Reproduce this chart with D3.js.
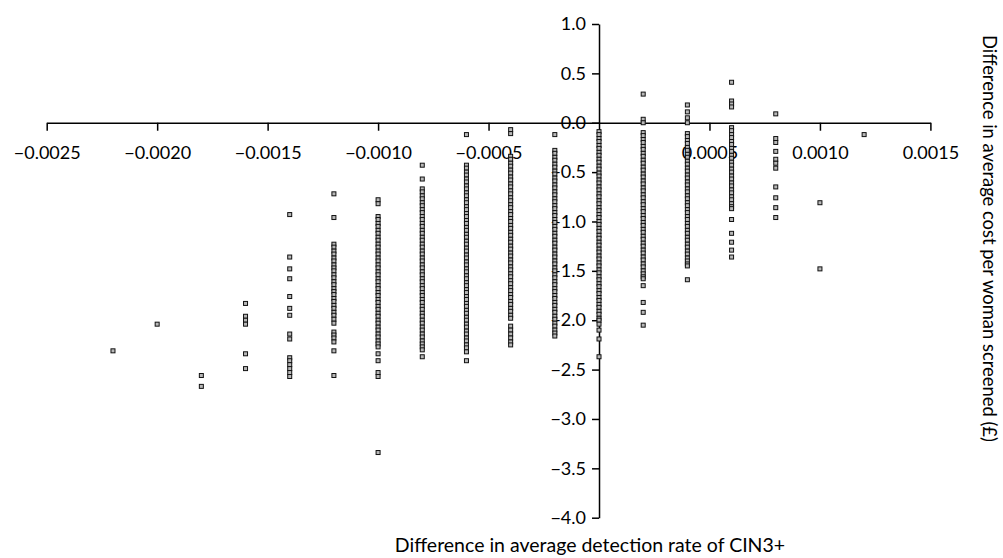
<!DOCTYPE html>
<html>
<head>
<meta charset="utf-8">
<script src="https://cdn.jsdelivr.net/npm/d3@7"></script>
<style>
  html, body { margin: 0; padding: 0; background: #fff; }
  svg text { font-family: Lato, "Open Sans", sans-serif; fill: #000; }
</style>
</head>
<body>
<svg id="chart" width="1003" height="558"></svg>
<script>
// Difference in detection rate (x) for each column of simulated strategies
const detectionDiffs = [
  -0.0022, -0.0020, -0.0018, -0.0016, -0.0014, -0.0012, -0.0010, -0.0008, -0.0006,
  -0.0004, -0.0002, 0, 0.0002, 0.0004, 0.0006, 0.0008, 0.0010, 0.0012
];

// Difference in cost per woman screened (£), one list per column above
const costM0022 = [-2.31];
const costM0020 = [-2.04];
const costM0018 = [-2.56, -2.67];
const costM0016 = [-1.83, -1.96, -2.00, -2.04, -2.34, -2.49];
const costM0014 = [-0.93, -1.36, -1.48, -1.58, -1.76, -1.88, -1.95, -2.14, -2.19,
  -2.38, -2.41, -2.45, -2.49, -2.53, -2.57];
const costM0012 = [-0.72, -0.96,
  -1.23, -1.26, -1.30, -1.33, -1.37, -1.40, -1.44, -1.47, -1.50, -1.54, -1.57, -1.61,
  -1.64, -1.68, -1.71, -1.74, -1.78, -1.81, -1.85, -1.88, -1.92, -1.95, -1.99, -2.03,
  -2.12, -2.15, -2.18, -2.22, -2.31, -2.56];
const costM0010 = [-0.78, -0.82,
  -0.95, -0.98, -1.02, -1.05, -1.09, -1.12, -1.16, -1.19, -1.23, -1.26, -1.30, -1.33,
  -1.37, -1.40, -1.44, -1.47, -1.51, -1.54, -1.58, -1.61, -1.65, -1.68, -1.72, -1.75,
  -1.79, -1.82, -1.86, -1.89, -1.93, -1.96, -2.00, -2.03, -2.07, -2.10, -2.14, -2.17,
  -2.21, -2.24, -2.27, -2.34, -2.41, -2.53, -2.57, -3.34];
const costM0008 = [-0.43, -0.57,
  -0.67, -0.70, -0.74, -0.77, -0.81, -0.84, -0.88, -0.91, -0.95, -0.98, -1.02, -1.05,
  -1.09, -1.12, -1.16, -1.19, -1.23, -1.26, -1.30, -1.33, -1.37, -1.40, -1.44, -1.47,
  -1.51, -1.54, -1.58, -1.61, -1.65, -1.68, -1.72, -1.75, -1.79, -1.82, -1.86, -1.89,
  -1.93, -1.96, -2.00, -2.03, -2.07, -2.10, -2.14, -2.17, -2.21, -2.24, -2.27, -2.30,
  -2.37];
const costM0006 = [-0.12,
  -0.43, -0.46, -0.50, -0.53, -0.57, -0.60, -0.64, -0.67, -0.71, -0.74, -0.78, -0.81,
  -0.85, -0.88, -0.92, -0.95, -0.99, -1.02, -1.06, -1.09, -1.13, -1.16, -1.20, -1.23,
  -1.27, -1.30, -1.34, -1.37, -1.41, -1.44, -1.48, -1.51, -1.55, -1.58, -1.62, -1.65,
  -1.69, -1.72, -1.76, -1.79, -1.83, -1.86, -1.90, -1.93, -1.97, -2.00, -2.04, -2.07,
  -2.11, -2.14, -2.18, -2.21, -2.25, -2.28, -2.32, -2.41];
const costM0004 = [-0.07, -0.11,
  -0.34, -0.37, -0.41, -0.44, -0.48, -0.51, -0.55, -0.58, -0.62, -0.65, -0.69, -0.72,
  -0.76, -0.79, -0.83, -0.86, -0.90, -0.93, -0.97, -1.00, -1.04, -1.07, -1.11, -1.14,
  -1.18, -1.21, -1.25, -1.28, -1.32, -1.35, -1.39, -1.42, -1.46, -1.49, -1.53, -1.56,
  -1.60, -1.63, -1.67, -1.70, -1.74, -1.77, -1.81, -1.84, -1.88, -1.91, -1.95, -1.98,
  -2.06, -2.10, -2.14, -2.18, -2.22, -2.25];
const costM0002 = [-0.12,
  -0.28, -0.31, -0.35, -0.38, -0.42, -0.45, -0.49, -0.52, -0.56, -0.59, -0.63, -0.66,
  -0.70, -0.73, -0.77, -0.80, -0.84, -0.87, -0.91, -0.94, -0.98, -1.01, -1.05, -1.08,
  -1.12, -1.15, -1.19, -1.22, -1.26, -1.29, -1.33, -1.36, -1.40, -1.43, -1.47, -1.50,
  -1.54, -1.57, -1.61, -1.64, -1.68, -1.71, -1.75, -1.78, -1.82, -1.85, -1.89, -1.92,
  -1.96, -1.99, -2.03, -2.06, -2.10, -2.13, -2.16];
const costZero = [
  -0.09, -0.12, -0.16, -0.19, -0.23, -0.26, -0.30, -0.33, -0.37, -0.40, -0.44, -0.47,
  -0.51, -0.54, -0.58, -0.61, -0.65, -0.68, -0.72, -0.75, -0.79, -0.82, -0.86, -0.89,
  -0.93, -0.96, -1.00, -1.03, -1.07, -1.10, -1.14, -1.17, -1.21, -1.24, -1.28, -1.31,
  -1.35, -1.38, -1.42, -1.45, -1.49, -1.52, -1.56, -1.59, -1.63, -1.66, -1.70, -1.73,
  -1.77, -1.80, -1.84, -1.87, -1.91, -1.94, -1.98, -2.00, -2.04, -2.10, -2.19, -2.37];
const costP0002 = [0.29, 0.035, 0.00,
  -0.10, -0.13, -0.17, -0.20, -0.24, -0.27, -0.31, -0.34, -0.38, -0.41, -0.45, -0.48,
  -0.52, -0.55, -0.59, -0.62, -0.66, -0.69, -0.73, -0.76, -0.80, -0.83, -0.87, -0.90,
  -0.94, -0.97, -1.01, -1.04, -1.08, -1.11, -1.15, -1.18, -1.22, -1.25, -1.29, -1.32,
  -1.36, -1.39, -1.43, -1.46, -1.50, -1.53, -1.56, -1.58, -1.65, -1.82, -1.92, -2.05];
const costP0004 = [0.18, 0.11, 0.05, 0.00,
  -0.11, -0.14, -0.18, -0.21, -0.25, -0.28, -0.32, -0.35, -0.39, -0.42, -0.46, -0.49,
  -0.53, -0.56, -0.60, -0.63, -0.67, -0.70, -0.74, -0.77, -0.81, -0.84, -0.88, -0.91,
  -0.95, -0.98, -1.02, -1.05, -1.09, -1.12, -1.16, -1.19, -1.23, -1.26, -1.30, -1.33,
  -1.37, -1.40, -1.43, -1.45, -1.59];
const costP0006 = [0.41, 0.22, 0.19, 0.16,
  -0.05, -0.08, -0.12, -0.15, -0.19, -0.22, -0.26, -0.29, -0.33, -0.36, -0.40, -0.43,
  -0.47, -0.50, -0.54, -0.57, -0.61, -0.64, -0.68, -0.71, -0.75, -0.78, -0.82, -0.85,
  -0.87, -0.98, -1.12, -1.21, -1.29, -1.36];
const costP0008 = [0.09, -0.16, -0.20, -0.29, -0.37, -0.41, -0.46, -0.65, -0.76, -0.86, -0.96];
const costP0010 = [-0.81, -1.48];
const costP0012 = [-0.12];

const costColumns = [
  costM0022, costM0020, costM0018, costM0016, costM0014, costM0012, costM0010,
  costM0008, costM0006, costM0004, costM0002, costZero, costP0002, costP0004,
  costP0006, costP0008, costP0010, costP0012
];

// Axis ticks
const xTicks = [-0.0025, -0.0020, -0.0015, -0.0010, -0.0005, 0.0005, 0.0010, 0.0015];
const yTicks = [1.0, 0.5, 0.0, -0.5, -1.0, -1.5, -2.0, -2.5, -3.0, -3.5, -4.0];

const xTitle = "Difference in average detection rate of CIN3+";
const yTitle = "Difference in average cost per woman screened (£)";

// Flatten to points
const points = [];
detectionDiffs.forEach((dx, i) => {
  costColumns[i].forEach(c => points.push({ x: dx, y: c }));
});

const svg = d3.select("#chart");

const x = d3.scaleLinear().domain([-0.0025, 0.0015]).range([46.7, 930.4]);
const y = d3.scaleLinear().domain([1.0, -4.0]).range([24, 517.7]);

const fontSize = 18;

// X axis through y = 0
const xAxis = d3.axisBottom(x)
  .tickValues(xTicks)
  .tickSize(8)
  .tickSizeOuter(0)
  .tickPadding(15)
  .tickFormat(d3.format(".4f"));

const gx = svg.append("g")
  .attr("transform", `translate(0,${y(0)})`)
  .call(xAxis);

// Y axis through x = 0
const yAxis = d3.axisLeft(y)
  .tickValues(yTicks)
  .tickSize(7)
  .tickSizeOuter(0)
  .tickPadding(6)
  .tickFormat(d3.format(".1f"));

const gy = svg.append("g")
  .attr("transform", `translate(${x(0)},0)`)
  .call(yAxis);

[gx, gy].forEach(g => {
  g.select(".domain").attr("stroke", "#000").attr("stroke-width", 1.5);
  g.selectAll(".tick line").attr("stroke", "#000").attr("stroke-width", 1.5);
  g.selectAll(".tick text")
    .attr("font-family", "Lato, 'Open Sans', sans-serif")
    .attr("font-size", fontSize)
    .attr("fill", "#000");
});

// Scatter markers: small grey squares with dark outline
const s = 4;
svg.append("g")
  .selectAll("rect")
  .data(points)
  .join("rect")
  .attr("x", d => x(d.x) - s / 2)
  .attr("y", d => y(d.y) - s / 2)
  .attr("width", s)
  .attr("height", s)
  .attr("fill", "#b8b8b8")
  .attr("stroke", "#111")
  .attr("stroke-width", 1);

// Axis titles
svg.append("text")
  .attr("x", 590)
  .attr("y", 552)
  .attr("text-anchor", "middle")
  .attr("font-size", 19.5)
  .text(xTitle);

svg.append("text")
  .attr("transform", "translate(983,35) rotate(90)")
  .attr("text-anchor", "start")
  .attr("font-size", 18.4)
  .text(yTitle);
</script>
</body>
</html>
